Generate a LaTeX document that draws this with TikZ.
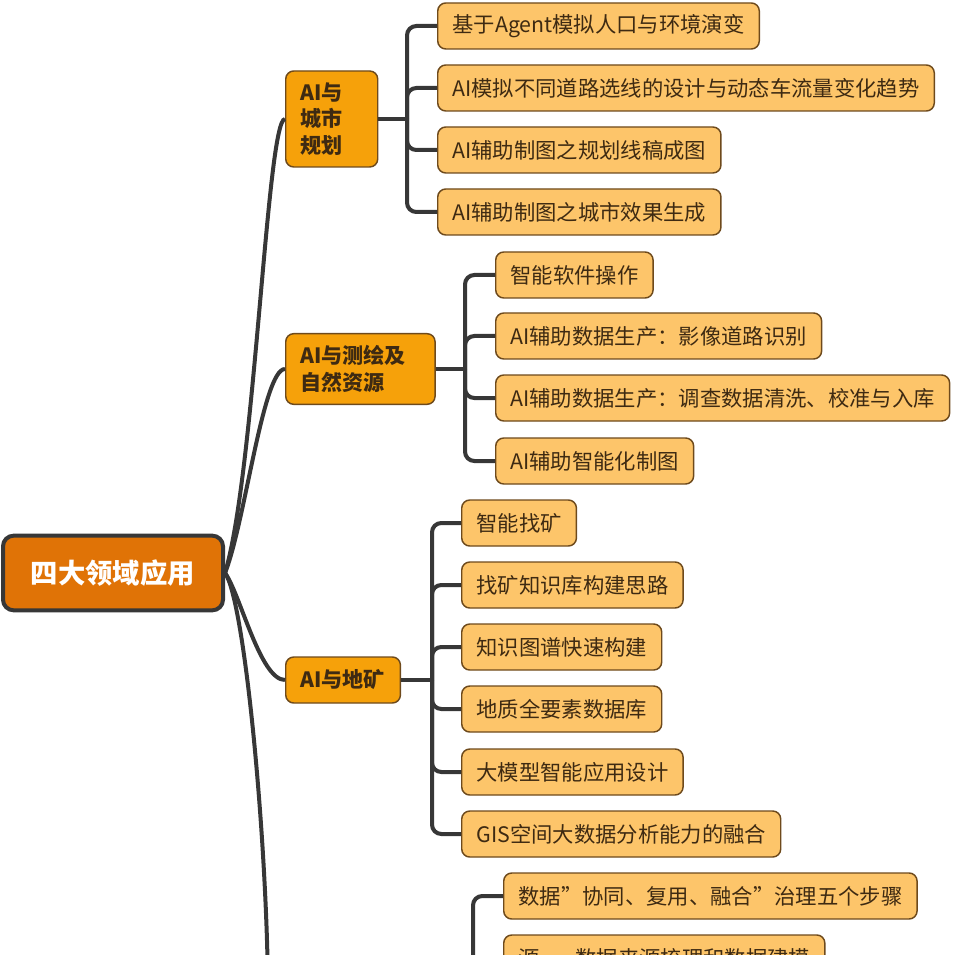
\documentclass[tikz,border=0pt]{standalone}
\usepackage{fontspec}
\setmainfont{Noto Sans CJK SC}
\definecolor{rootfill}{HTML}{E07306}
\definecolor{topicfill}{HTML}{F6A10A}
\definecolor{leaffill}{HTML}{FDC56A}
\definecolor{boxline}{HTML}{6E4A1C}
\definecolor{inkbrown}{HTML}{3E2A12}
\definecolor{linkgray}{HTML}{373737}
\begin{document}
\begin{tikzpicture}[x=0.75pt, y=-0.75pt,
  link/.style={draw=linkgray, line width=3pt},
  rootbox/.style={draw=linkgray, line width=3pt, fill=rootfill, rounded corners=8pt,
    text=white, font=\fontsize{20.5}{24}\selectfont\bfseries,
    minimum width=165pt, minimum height=56pt},
  topic/.style={draw=boxline, line width=1.1pt, fill=topicfill, rounded corners=6pt,
    text=inkbrown, font=\fontsize{15.8}{20}\selectfont\bfseries, align=left,
    anchor=west, inner xsep=11pt, inner ysep=5pt},
  leaf/.style={draw=boxline, line width=1.1pt, fill=leaffill, rounded corners=6pt,
    text=inkbrown, font=\fontsize{16}{20}\selectfont, anchor=west,
    inner xsep=11pt, minimum height=34.5pt}]
\useasboundingbox (0,0) rectangle (956,955);
\clip (0,0) rectangle (956,955);
%
\node[rootbox] (root) at (113,573) {四大领域应用};
%
\node[topic, text width=47pt, minimum height=72pt] (urban) at (285,119) {AI与\\城市\\规划};
\node[topic, text width=90pt, minimum height=53pt] (survey) at (285,369) {AI与测绘及\\自然资源};
\node[topic, text width=64pt, minimum height=34.5pt] (mine) at (285,680) {AI与地矿};
\coordinate (dataend) at (268,1000);
%
\draw[link] (root.east) .. controls +(30,-100) and +(-18,0) .. (urban.west);
\draw[link] (root.east) .. controls +(20,-50) and +(-22,0) .. (survey.west);
\draw[link] (root.east) .. controls +(15,20) and +(-25,0) .. (mine.west);
\draw[link] (root.east) .. controls +(20,27) and +(0,-150) .. (dataend);
%
% AI与城市规划
\node[leaf] (u1) at (437,26) {基于Agent模拟人口与环境演变};
\node[leaf] (u2) at (437,88) {AI模拟不同道路选线的设计与动态车流量变化趋势};
\node[leaf] (u3) at (437,150) {AI辅助制图之规划线稿成图};
\node[leaf] (u4) at (437,212) {AI辅助制图之城市效果生成};
\coordinate (kurban) at (407,119);
\draw[link] (urban.east) -- (kurban);
\foreach \k in {u1,u2,u3,u4}
  \draw[link, rounded corners=7pt] (kurban) |- (\k.west);
%
% AI与测绘及自然资源
\node[leaf] (s1) at (495,275) {智能软件操作};
\node[leaf] (s2) at (495,336) {AI辅助数据生产：影像道路识别};
\node[leaf] (s3) at (495,398) {AI辅助数据生产：调查数据清洗、校准与入库};
\node[leaf] (s4) at (495,461) {AI辅助智能化制图};
\coordinate (ksurvey) at (465,369);
\draw[link] (survey.east) -- (ksurvey);
\foreach \k in {s1,s2,s3,s4}
  \draw[link, rounded corners=7pt] (ksurvey) |- (\k.west);
%
% AI与地矿
\node[leaf] (m1) at (461,523) {智能找矿};
\node[leaf] (m2) at (461,585) {找矿知识库构建思路};
\node[leaf] (m3) at (461,647) {知识图谱快速构建};
\node[leaf] (m4) at (461,709) {地质全要素数据库};
\node[leaf] (m5) at (461,772) {大模型智能应用设计};
\node[leaf] (m6) at (461,834) {GIS空间大数据分析能力的融合};
\coordinate (kmine) at (432,680);
\draw[link] (mine.east) -- (kmine);
\foreach \k in {m1,m2,m3,m4,m5,m6}
  \draw[link, rounded corners=7pt] (kmine) |- (\k.west);
%
% cut off at the bottom
\node[leaf] (d1) at (503,896) {数据”协同、复用、融合”治理五个步骤};
\node[leaf] (d2) at (503,958) {源——数据来源梳理和数据建模};
\coordinate (kdata) at (473,1010);
\foreach \k in {d1,d2}
  \draw[link, rounded corners=7pt] (kdata) |- (\k.west);
%
\end{tikzpicture}
\end{document}
